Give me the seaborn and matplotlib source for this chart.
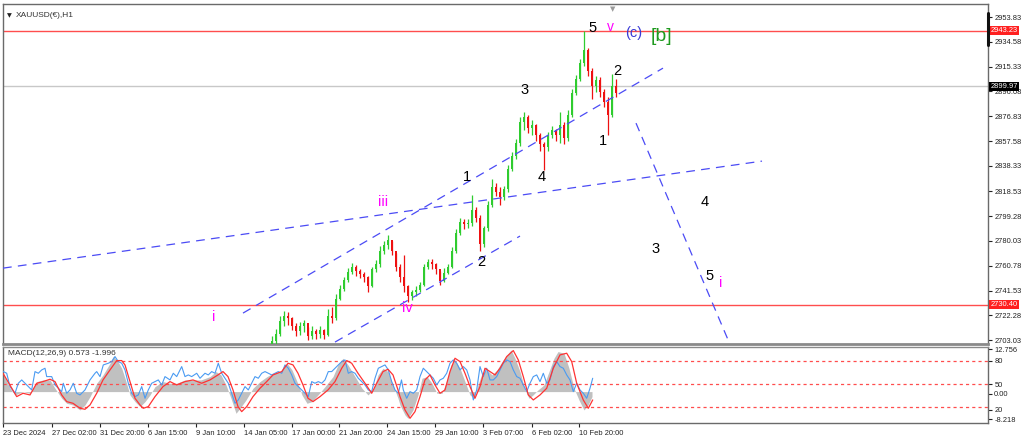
#!/usr/bin/env python3
"""XAUUSD H1 Elliott-wave chart with MACD sub-panel (MT4 style), drawn with seaborn/matplotlib."""

import matplotlib

matplotlib.use("Agg")
import matplotlib.pyplot as plt
import matplotlib.transforms as mtransforms
import numpy as np
import pandas as pd
import seaborn as sns

# ---------------------------------------------------------------- price data
# bar positions (chart columns) of the visible candles
bar_x = [272, 276, 280, 284, 288, 292, 296, 300, 304, 308, 312, 316, 320, 324, 328,
         332, 336, 340, 344, 348, 352, 356, 360, 364, 368, 372, 376, 380, 384, 388,
         392, 396, 400, 404, 408, 412, 416, 420, 424, 428, 432, 436, 440, 444, 448,
         452, 456, 460, 464, 468, 472, 476, 480, 484, 488, 492, 496, 500, 504, 508,
         512, 516, 520, 524, 528, 532, 536, 540, 544, 548, 552, 556, 560, 564, 568,
         572, 576, 580, 584, 588, 592, 596, 600, 604, 608, 612, 616]
closes = [2702, 2708, 2718, 2722, 2720, 2714, 2710, 2714, 2716, 2706, 2710, 2708, 2711, 2707, 2722,
          2720, 2735, 2743, 2750, 2756, 2760, 2757, 2754, 2752, 2745, 2758, 2762, 2772, 2777, 2781,
          2772, 2760, 2752, 2745, 2737, 2740, 2742, 2746, 2760, 2764, 2762, 2758, 2749, 2755, 2760,
          2772, 2786, 2795, 2793, 2794, 2804, 2798, 2778, 2790, 2808, 2822, 2818, 2814, 2820, 2836,
          2846, 2856, 2872, 2876, 2868, 2870, 2862, 2855, 2853, 2862, 2866, 2862, 2870, 2860, 2878,
          2895, 2906, 2918, 2928, 2912, 2900, 2905, 2896, 2888, 2878, 2900, 2895]
highs = [2706, 2712, 2722, 2726, 2725, 2721, 2716, 2717, 2719, 2713, 2714, 2712, 2714, 2712, 2727,
         2729, 2739, 2746, 2752, 2759, 2763, 2761, 2758, 2756, 2753, 2760, 2765, 2776, 2780, 2785,
         2780, 2771, 2762, 2769, 2746, 2742, 2745, 2748, 2762, 2766, 2766, 2763, 2757, 2759, 2762,
         2775, 2789, 2798, 2797, 2797, 2816, 2806, 2800, 2792, 2811, 2828, 2825, 2822, 2823, 2839,
         2849, 2859, 2876, 2880, 2878, 2874, 2871, 2864, 2857, 2865, 2869, 2867, 2880, 2872, 2882,
         2898, 2909, 2921, 2943.2, 2930, 2914, 2908, 2907, 2898, 2892, 2910, 2906]
lows = [2695, 2700, 2706, 2714, 2715, 2711, 2706, 2707, 2709, 2703, 2704, 2704, 2705, 2704, 2706,
        2716, 2719, 2734, 2741, 2748, 2754, 2753, 2751, 2748, 2740, 2744, 2756, 2760, 2770, 2774,
        2769, 2757, 2748, 2740, 2733, 2734, 2737, 2740, 2745, 2758, 2758, 2754, 2746, 2748, 2754,
        2759, 2771, 2785, 2789, 2790, 2792, 2795, 2772, 2775, 2788, 2806, 2815, 2808, 2812, 2818,
        2834, 2844, 2854, 2866, 2864, 2862, 2858, 2850, 2835, 2850, 2860, 2858, 2856, 2855, 2858,
        2876, 2893, 2904, 2916, 2908, 2890, 2896, 2892, 2884, 2862, 2876, 2892]

price_ticks = [2953.83, 2934.58, 2915.33, 2896.08, 2876.83, 2857.58, 2838.33, 2818.53,
               2799.28, 2780.03, 2760.78, 2741.53, 2722.28, 2703.03]
resistance = 2943.23
support = 2730.40
bid = 2899.97

# dashed trend lines: (x0, p0, x1, p1)
trend_lines = [
    (3, 2758.9, 762, 2842.0),
    (243, 2724.0, 663, 2914.2),
    (335, 2701.5, 520, 2783.8),
    (636, 2871.5, 729, 2701.5),
]

# wave labels: (x, price, text, colour, size)
wave_labels = [
    (593, 2945.5, "5", "black", 10.5),
    (610, 2946.0, "v", "#ff00ff", 10),
    (634, 2941.5, "(c)", "#3a3ad6", 10.5),
    (661, 2939.0, "[b]", "#1f9a1f", 14),
    (617, 2912.0, "2", "black", 10.5),
    (525, 2897.5, "3", "black", 10.5),
    (603, 2857.5, "1", "black", 10.5),
    (467, 2829.5, "1", "black", 10.5),
    (542, 2829.5, "4", "black", 10.5),
    (383, 2810.5, "iii", "#ff00ff", 10.5),
    (481, 2763.5, "2", "black", 10.5),
    (407, 2728.0, "iv", "#ff00ff", 10.5),
    (214, 2721.0, "i", "#ff00ff", 10.5),
    (705, 2810.5, "4", "black", 10.5),
    (656, 2773.5, "3", "black", 10.5),
    (710, 2753.0, "5", "black", 10.5),
    (721, 2747.5, "i", "#ff00ff", 10.5),
]

# ---------------------------------------------------------------- MACD data
blue_x = [3.3, 6.7, 10, 15, 18.3, 21.7, 26.7, 31.7, 35, 38.3, 41.7, 45, 46.7, 51.7, 55, 58.3, 61.7,
          63.3, 66.7, 70, 73.3, 76.7, 80, 85, 90, 95, 96.7, 100, 103.3, 108.3, 111.7, 115, 118.3,
          121.7, 125, 128.3, 131.7, 135, 138.3, 141.7, 145, 148.3, 151.7, 155, 158.3, 161.7, 165,
          170, 173.3, 176.7, 181.7, 185, 188.3, 191.7, 196.7, 200, 205, 208.3, 211.7, 215, 218.3,
          221.7, 225, 228.3, 231.7, 235, 238.3, 241.7, 245, 248.3, 251.7, 255, 258.3, 261.7, 265,
          268.3, 271.7, 275, 278.3, 281.7, 285, 288.3, 291.7, 295, 298.3, 301.7, 305, 308.3, 311.7,
          315, 318.3, 321.7, 325, 328.3, 331.7, 335, 338.3, 341.7, 345, 348.3, 351.7, 355, 358.3,
          361.7, 365, 368.3, 371.7, 375, 378.3, 381.7, 385, 388.3, 391.7, 395, 398.3, 401.5,
          403.3, 406.7, 410, 413.3, 416.7, 420, 423.3, 426.7, 430, 433.3, 436.7, 440, 443.3, 446.7,
          450, 453.3, 456.7, 460, 463.3, 466.7, 470, 473.3, 476.7, 480, 483.3, 486.7, 490, 493.3,
          496.7, 500, 503.3, 506.7, 510, 513.3, 516.7, 520, 523.3, 526.7, 530, 533.3, 536.7, 540,
          543.3, 546.7, 550, 553.3, 556.7, 560, 563.3, 566.7, 570, 573.3, 576.7, 580, 583.3, 586.7,
          590, 592.7]
blue_y = [6.0, 5.5, 1.5, -0.5, 2.5, 3.5, 2.0, 0.5, 6.0, 5.5, 6.5, 7.0, 4.5, 4.5, 2.0, 1.0, 0.0,
          2.5, -0.5, 0.5, 2.5, -0.5, -1.0, 0.5, 3.5, 5.5, 6.0, 4.5, 8.0, 8.5, 9.0, 10.5, 9.0,
          8.5, 6.5, 2.5, -0.5, -1.5, -1.0, 1.5, -2.0, 0.5, 2.5, 3.0, 3.5, 2.0, 4.5,
          3.5, 5.5, 4.5, 7.5, 4.5, 5.0, 4.5, 5.5, 4.0, 5.5, 5.0, 6.0, 5.5, 8.5,
          5.5, 4.0, 2.5, -0.5, -3.5, -2.5, -0.5, 1.5, 0.5, 2.5, 4.5, 4.0, 5.5, 6.0,
          5.5, 5.0, 5.5, 6.0, 5.5, 8.0, 7.0, 5.0, 2.5, 1.5, 0.5, -0.5, -1.5, 3.0,
          2.5, 3.0, 2.5, 3.5, 6.0, 6.0, 7.0, 8.0, 9.0, 9.5, 5.5, 6.0, 5.5, 4.0,
          3.0, 2.0, 0.5, 0.0, 4.0, 7.0, 7.5, 8.0, 6.5, 3.0, 0.5, -0.5, 3.5,
          0.5, -2.0, 0.0, -0.5, 0.5, 4.5, 7.0, 6.0, 5.0, 4.0, 2.0, 3.5, 4.0, 5.5,
          8.5, 9.5, 8.5, 6.5, 7.5, 6.5, 3.5, -2.5, 0.5, 7.5, 4.5, 7.0, 3.5, 3.5,
          4.5, 6.5, 8.5, 9.5, 9.0, 6.5, 4.5, 4.0, 2.0, 0.0, 2.5, 4.5, 5.0, 3.0,
          5.5, 2.5, 3.5, 7.5, 9.0, 7.5, 7.0, 5.0, 3.5, 0.0, 2.5, 0.5, -0.5, -2.0,
          1.0, 4.0]

red_x = [3, 16.7, 23, 30, 36.7, 43, 50, 55, 61.7, 66.7, 73, 80, 85, 90, 96.7, 103, 110, 116.7,
         121.7, 125, 130, 135, 140, 143.3, 148.3, 155, 163, 170, 176.7, 185, 193, 201.7, 210, 218,
         223, 228, 233, 238, 241.7, 246.7, 253, 260, 266.7, 273, 281.7, 288, 293, 298, 303, 308,
         313, 320, 328, 335, 341.7, 346.7, 351.7, 358, 365, 371.7, 376.7, 383, 388, 393, 398,
         400, 405, 410, 415, 420, 425, 430, 435, 440, 445, 450, 455, 460, 465, 470, 475, 480,
         485, 490, 495, 500, 506.7, 513.3, 518.3, 523.3, 528.3, 533.3, 540, 546.7, 553.3, 560,
         566.7, 571.7, 576.7, 583.3, 588.3, 592.7]
red_y = [5.5, -1.5, -0.5, -1.0, 2.5, 3.0, 3.7, 3.0, -1.0, -3.0, -3.5, -5.0, -5.3, -4.0, -0.5, 3.5,
         6.5, 9.3, 9.3, 8.0, 3.0, -2.0, -4.0, -5.0, -4.5, -1.5, 1.5, 3.0, 2.0, 3.0, 3.5, 2.5, 3.5,
         5.0, 6.0, 4.5, 0.5, -4.5, -6.0, -4.5, -1.5, 1.0, 3.0, 5.0, 6.0, 8.5, 8.0, 5.5, 2.0, -2.0,
         -3.0, -1.5, 0.5, 3.0, 7.0, 9.3, 8.5, 5.5, 2.5, -0.5, 2.5, 6.0, 6.7, 5.0, 0.5,
         -1.5, -5.5, -8.0, -6.0, -1.5, 3.5, 5.0, 2.0, -0.5, 0.5, 6.0, 10.0, 9.0, 5.5, 1.5, -2.0,
         1.5, 7.0, 6.0, 5.0, 7.0, 10.5, 12.3, 9.5, 4.5, -1.0, -2.5, -1.0, 1.0, 7.0, 11.0,
         11.5, 9.0, 2.5, -2.5, -5.0, -2.5]

hist_x = [3, 10, 15, 23, 30, 36.7, 43, 50, 55, 61.7, 66.7, 73, 80, 85, 90, 96.7, 103, 110, 113,
          117, 121.7, 125, 130, 135, 140, 145, 150, 155, 163, 170, 176.7, 185, 193, 201, 210, 216,
          221, 226, 231, 236, 240, 246, 253, 260, 267, 273, 281, 287, 292, 297, 302, 307, 312,
          318, 325, 333, 338, 343, 348, 355, 362, 368, 373, 378, 383, 388, 393, 398, 400, 405,
          408, 413, 418, 422, 427, 432, 437, 442, 447, 451, 455, 460, 465, 470, 474, 478, 482,
          487, 492, 497, 502, 507, 511, 515, 520, 525, 529, 533, 538, 544, 549, 554, 558, 564,
          569, 574, 579, 584, 588, 592]
hist_y = [5.5, 1.0, -1.0, 0.0, -0.5, 3.0, 3.5, 3.5, 1.0, -2.0, -3.5, -4.0, -5.5, -4.0, -1.5, 2.5,
          5.0, 8.5, 10.5, 9.5, 7.0, 4.0, -1.0, -3.0, -4.5, -3.0, -1.0, 1.5, 3.0, 2.5, 2.5, 3.5,
          3.5, 3.5, 4.5, 6.0, 5.0, 2.0, -2.0, -6.5, -5.0, -2.5, 1.0, 3.0, 4.5, 5.5, 6.0, 8.5,
          6.5, 3.0, -1.0, -3.5, -3.0, -1.0, 1.5, 4.5, 8.0, 10.0, 8.0, 4.5, 1.0, -1.0, 0.5, 5.0,
          7.0, 6.0, 2.0, -2.0, -4.0, -7.0, -8.0, -5.5, -1.0, 4.0, 4.5, 2.5, -0.5, -0.5, 3.5,
          8.0, 9.5, 7.0, 3.0, -1.0, -2.0, 2.0, 5.5, 6.5, 5.0, 6.5, 9.0, 11.0, 12.5, 10.0, 6.0,
          0.5, -2.0, -1.0, 0.5, 2.0, 6.0, 10.0, 12.0, 11.5, 7.0, 1.0, -2.5, -5.5, -4.0, -1.5]

macd_levels = [9.26, 2.19, -4.7]
macd_tick_vals = [12.756, 9.26, 2.19, -0.7, -5.5, -8.218]
macd_tick_text = ["12.756", "80", "50", "0.00", "20", "-8.218"]

# ---------------------------------------------------------------- time axis
time_tick_x = [3, 52, 100, 148, 196, 244, 292, 339, 387, 435, 483, 532, 579]
time_tick_text = ["23 Dec 2024", "27 Dec 02:00", "31 Dec 20:00", "6 Jan 15:00", "9 Jan 10:00",
                  "14 Jan 05:00", "17 Jan 00:00", "21 Jan 20:00", "24 Jan 15:00", "29 Jan 10:00",
                  "3 Feb 07:00", "6 Feb 02:00", "10 Feb 20:00"]

X_MIN, X_MAX = 3, 988
BLUE_LINE = "#4b4bf5"
RED_LINE = "#ff4d4d"
LABEL_SIZE = 5.4


def draw_candles(ax, df: pd.DataFrame) -> None:
    up = df["close"] >= df["open"]
    for is_up, colour in ((True, "#2fcc2f"), (False, "#ee1111")):
        sub = df[up == is_up]
        ax.vlines(sub["x"], sub["low"], sub["high"], color=colour, linewidth=0.9, zorder=3)
        ax.bar(sub["x"], (sub["close"] - sub["open"]).abs().clip(lower=0.6),
               bottom=np.minimum(sub["open"], sub["close"]), width=2.2,
               color=colour, linewidth=0, zorder=3)


def main() -> None:
    sns.set_style("white")
    plt.rcParams["font.family"] = ["Liberation Sans", "DejaVu Sans"]

    fig = plt.figure(figsize=(10.24, 4.41), dpi=100)
    W, H = 1024, 441
    ax = fig.add_axes([X_MIN / W, (H - 344) / H, (X_MAX - X_MIN) / W, (344 - 4) / H])
    mx = fig.add_axes([X_MIN / W, (H - 423) / H, (X_MAX - X_MIN) / W, (423 - 347) / H])

    # ----- price panel
    candles = pd.DataFrame({"x": bar_x, "close": closes, "high": highs, "low": lows})
    candles["open"] = candles["close"].shift(1).fillna(2698)
    draw_candles(ax, candles)

    ax.axhline(resistance, color=RED_LINE, linewidth=1.0, zorder=2)
    ax.axhline(support, color=RED_LINE, linewidth=1.0, zorder=2)
    ax.axhline(bid, color="#c8c8c8", linewidth=1.0, zorder=1)

    for x0, p0, x1, p1 in trend_lines:
        seg = pd.DataFrame({"x": [x0, x1], "p": [p0, p1]})
        sns.lineplot(data=seg, x="x", y="p", ax=ax, color=BLUE_LINE, linewidth=0.9,
                     linestyle=(0, (7, 5)), zorder=4)

    for x, p, txt, col, size in wave_labels:
        ax.text(x, p, txt, color=col, fontsize=size, ha="center", va="center", zorder=6)

    ax.set_xlim(X_MIN, X_MAX)
    ax.set_ylim(2700.0, 2964.0)
    ax.set_xticks([])
    ax.yaxis.tick_right()
    ax.set_yticks(price_ticks)
    ax.set_yticklabels([f"{t:.2f}" for t in price_ticks])
    ax.tick_params(axis="y", right=True, length=3, width=0.8, pad=1.5, labelsize=LABEL_SIZE,
                   colors="#222222")
    ax.set_xlabel("")
    ax.set_ylabel("")

    trans = mtransforms.blended_transform_factory(ax.transAxes, ax.transData)
    for val, bg, fg in ((resistance, "#ff2020", "white"), (support, "#ff2020", "white"),
                        (bid, "black", "white")):
        ax.text(1.0025, val, f"{val:.2f}", transform=trans, fontsize=LABEL_SIZE, color=fg,
                ha="left", va="center", zorder=7, clip_on=False,
                bbox=dict(boxstyle="square,pad=0.15", fc=bg, ec="none"))

    ax.text(0.013, 0.965, "XAUUSD(€),H1", transform=ax.transAxes, fontsize=6,
            color="#333333", ha="left", va="center")
    ax.text(0.004, 0.965, "▼", transform=ax.transAxes, fontsize=4.5, color="#222222",
            ha="left", va="center", family=["DejaVu Sans"])
    ax.text((613 - X_MIN) / (X_MAX - X_MIN), 0.985, "▼", transform=ax.transAxes, fontsize=5,
            color="#9a9a9a", ha="center", va="center", family=["DejaVu Sans"])
    ax.plot([1.0, 1.0], [0.88, 1.0 - (13 - 4) / 340], transform=ax.transAxes, color="#111111",
            linewidth=2.2, clip_on=False, zorder=8)

    for side, sp in ax.spines.items():
        sp.set_color("#6a6a6a")
        sp.set_linewidth(1.0)
    ax.spines["bottom"].set_linewidth(2.0)
    ax.spines["bottom"].set_color("#8a8a8a")

    # ----- MACD panel
    hist = pd.DataFrame({"x": hist_x, "v": hist_y})
    mx.fill_between(hist["x"], 0, hist["v"], color="#c0c0c0", linewidth=0, zorder=1)
    for lvl in macd_levels:
        mx.axhline(lvl, color=RED_LINE, linewidth=0.9, linestyle=(0, (2.5, 2.5)), zorder=2)
    sns.lineplot(x=blue_x, y=blue_y, ax=mx, color="#4a9bf2", linewidth=0.8, zorder=3)
    sns.lineplot(x=red_x, y=red_y, ax=mx, color="#ff3333", linewidth=0.9, zorder=4)

    mx.set_xlim(X_MIN, X_MAX)
    mx.set_ylim(-9.41, 13.37)
    mx.yaxis.tick_right()
    mx.set_yticks(macd_tick_vals)
    mx.set_yticklabels(macd_tick_text)
    mx.tick_params(axis="y", right=True, length=3, width=0.8, pad=1.5, labelsize=LABEL_SIZE,
                   colors="#222222")
    mx.set_xticks(time_tick_x)
    mx.set_xticklabels(time_tick_text, ha="left")
    mx.tick_params(axis="x", bottom=True, length=3, width=0.8, pad=2, labelsize=LABEL_SIZE,
                   colors="#222222")
    mx.set_xlabel("")
    mx.set_ylabel("")
    mx.text(0.005, 0.91, "MACD(12,26,9) 0.573 -1.996", transform=mx.transAxes, fontsize=6,
            color="#333333", ha="left", va="center", zorder=6)
    for side, sp in mx.spines.items():
        sp.set_color("#6a6a6a")
        sp.set_linewidth(1.0)
    mx.spines["top"].set_color("#8a8a8a")

    fig.savefig("out.png", dpi=100, facecolor="white")
    plt.close(fig)


if __name__ == "__main__":
    main()
